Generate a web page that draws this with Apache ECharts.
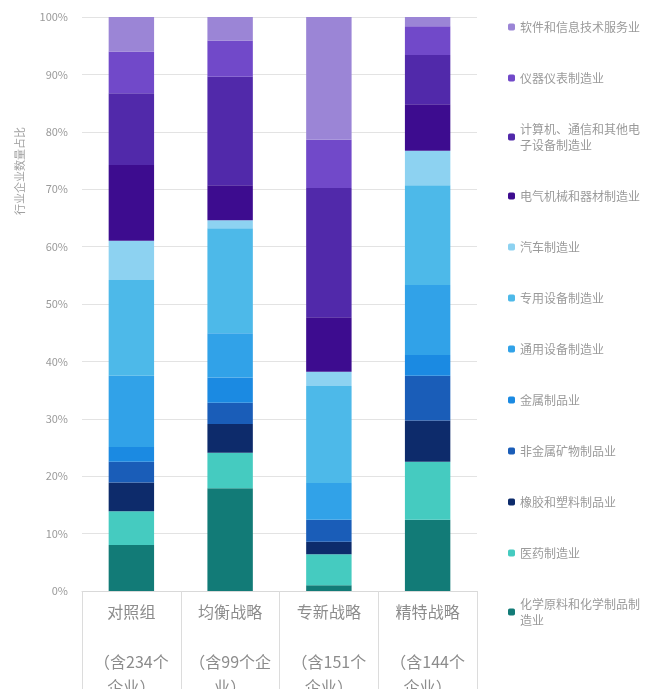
<!DOCTYPE html>
<html>
<head>
<meta charset="utf-8">
<script src="https://cdn.jsdelivr.net/npm/echarts@6/dist/echarts.min.js"></script>
<style>
  html, body { margin: 0; padding: 0; background: #ffffff; }
  #chart { width: 656px; height: 689px; }
</style>
</head>
<body>
<div id="chart"></div>
<script>
// Strategy groups and number of firms in each
const categories = ['对照组', '均衡战略', '专新战略', '精特战略'];
const firmCounts = [234, 99, 151, 144];

// Industries, listed from the bottom of each stack to the top
const industries = [
  '化学原料和化学制品制造业',
  '医药制造业',
  '橡胶和塑料制品业',
  '非金属矿物制品业',
  '金属制品业',
  '通用设备制造业',
  '专用设备制造业',
  '汽车制造业',
  '电气机械和器材制造业',
  '计算机、通信和其他电子设备制造业',
  '仪器仪表制造业',
  '软件和信息技术服务业'
];

// Share of firms (%) per industry, one value per strategy group
const shareChemical   = [8.0, 17.9, 1.0, 12.4];
const sharePharma     = [5.9, 6.2, 5.4, 10.1];
const shareRubber     = [5.0, 5.0, 2.2, 7.2];
const shareMineral    = [3.6, 3.7, 3.8, 7.8];
const shareMetal      = [2.6, 4.4, 0.0, 3.6];
const shareGeneralEq  = [12.4, 7.7, 6.4, 12.2];
const shareSpecialEq  = [16.7, 18.3, 16.9, 17.4];
const shareAuto       = [6.8, 1.4, 2.5, 6.0];
const shareElectrical = [13.2, 6.1, 9.5, 8.1];
const shareComputer   = [12.5, 18.9, 22.5, 8.6];
const shareInstrument = [7.3, 6.3, 8.4, 5.0];
const shareSoftware   = [6.0, 4.1, 21.4, 1.6];

const yTicks = [0, 10, 20, 30, 40, 50, 60, 70, 80, 90, 100];

const seriesValues = [
  shareChemical, sharePharma, shareRubber, shareMineral, shareMetal,
  shareGeneralEq, shareSpecialEq, shareAuto, shareElectrical,
  shareComputer, shareInstrument, shareSoftware
];

const palette = [
  '#127b77', '#45cbc0', '#0d2b6b', '#1a5db8', '#1b8ae2',
  '#31a2e8', '#4db9e9', '#8dd2f1', '#3d0c8f', '#5129aa',
  '#7149c9', '#9b85d6'
];

const chart = echarts.init(document.getElementById('chart'), null, { renderer: 'canvas' });

const labelFont = '"Noto Sans CJK SC", "Noto Sans", sans-serif';

chart.setOption({
  backgroundColor: '#ffffff',
  animation: false,
  grid: { left: 82, right: 179, top: 17, bottom: 98, outerBoundsMode: 'none' },
  legend: {
    orient: 'vertical',
    left: 503,
    top: 14,
    padding: 5,
    itemGap: 35,
    itemWidth: 7,
    itemHeight: 7,
    icon: 'roundRect',
    data: industries.slice().reverse(),
    textStyle: {
      color: '#9a9a9a',
      fontSize: 12,
      lineHeight: 16,
      fontFamily: labelFont,
      width: 126,
      overflow: 'break'
    }
  },
  xAxis: {
    type: 'category',
    data: categories,
    axisLine: { lineStyle: { color: '#d9d9d9' } },
    axisTick: {
      show: true,
      interval: 0,
      length: 100,
      lineStyle: { color: '#dcdcdc' }
    },
    axisLabel: {
      interval: 0,
      margin: 8,
      color: '#8c8c8c',
      fontSize: 16,
      lineHeight: 25,
      fontFamily: labelFont,
      width: 87,
      overflow: 'break',
      formatter: (name, idx) => name + '\n\n（含' + firmCounts[idx] + '个企业）'
    }
  },
  yAxis: {
    type: 'value',
    min: yTicks[0],
    max: yTicks[yTicks.length - 1],
    interval: yTicks[1] - yTicks[0],
    name: '行业企业数量占比',
    nameLocation: 'middle',
    nameRotate: 90,
    nameGap: 57,
    nameTextStyle: {
      color: '#a0a0a0',
      fontSize: 11,
      fontFamily: labelFont,
      padding: [0, 0, 0, 266]
    },
    axisLine: { show: false },
    axisTick: { show: false },
    splitLine: { lineStyle: { color: '#e3e3e3' } },
    axisLabel: {
      margin: 14,
      color: '#9a9a9a',
      fontSize: 11,
      fontFamily: labelFont,
      formatter: '{value}%'
    }
  },
  series: industries.map((name, i) => ({
    name: name,
    type: 'bar',
    stack: 'share',
    barWidth: '46%',
    itemStyle: { color: palette[i] },
    data: seriesValues[i]
  }))
});
</script>
</body>
</html>
